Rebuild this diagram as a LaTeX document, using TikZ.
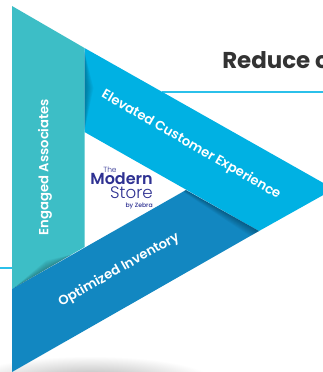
\documentclass[tikz,border=0pt]{standalone}
\usepackage{fontspec}
\setmainfont{Poppins}
\newfontfamily\medfont{Poppins Medium}
\newfontfamily\semifont{Poppins SemiBold}
\newfontfamily\lightfont{Poppins Light}
\usetikzlibrary{calc}
\definecolor{tealband}{HTML}{3DBEC6}
\definecolor{skyband}{HTML}{00B1E3}
\definecolor{deepband}{HTML}{1287C1}
\definecolor{rulecol}{HTML}{2BC0EA}
\definecolor{logoblue}{HTML}{2E3192}
\definecolor{titlecol}{HTML}{333333}
\tikzset{
  x=0.75pt,y=-0.75pt,
  bandtext/.style={text=white,font=\fontsize{9.9pt}{11pt}\semifont,inner sep=0pt},
  logotext/.style={text=logoblue,inner sep=0pt,anchor=base east},
  rulepath/.style={draw=rulecol,line width=1pt},
}
\begin{document}
\begin{tikzpicture}
\useasboundingbox (0,0) rectangle (323,372);
\fill[white] (0,0) rectangle (323,372);
% shadow below the picture
\begin{scope}
\clip (0,340) rectangle (323,372);
\shade[shading=radial,inner color=gray!65,outer color=white] (90,382) ellipse [x radius=125,y radius=26];
\end{scope}
% rules
\coordinate (ruleA) at (162,92);
\coordinate (ruleB) at (323,92);
\coordinate (ruleC) at (0,268);
\coordinate (ruleD) at (12,268);
\draw[rulepath] (ruleA) -- (ruleB);
\draw[rulepath] (ruleC) -- (ruleD);
% bands
\fill[tealband] (12,6) -- (84.5,48) -- (84.5,247) -- (12,289) -- cycle;
\fill[skyband] (84.5,48) -- (334,189) -- (259,231) -- (84.5,132) -- cycle;
\fill[deepband] (12,289) -- (186,190) -- (259,231) -- (12,372) -- cycle;
% fold shadows
\begin{scope}
\clip (84.5,48) -- (334,189) -- (259,231) -- (84.5,132) -- cycle;
\foreach \d in {1,2,...,9}
  \fill[black,opacity=0.035] (84.5,52) -- (84.5+\d,88) -- (84.5,130) -- cycle;
\end{scope}
\begin{scope}
\clip (12,6) -- (84.5,48) -- (84.5,247) -- (12,289) -- cycle;
\foreach \d in {1,2,...,8}
  \fill[black,opacity=0.035] (14,288) -- (72,254.5) -- (46,269.5-\d*1.1) -- cycle;
\end{scope}
\begin{scope}
\clip (12,289) -- (186,190) -- (259,231) -- (12,372) -- cycle;
\foreach \d in {1,2,...,10}
  \fill[black,opacity=0.03] (180,187) -- (259,231) -- (259-\d*0.9,231+\d*0.5) -- (186-\d*0.3,190+\d*0.17) -- cycle;
\end{scope}
% texts
\node[bandtext,rotate=90] (engaged) at (45,167) {Engaged Associates};
\node[bandtext,rotate=-30] (elevated) at (191,145) {Elevated Customer Experience};
\node[bandtext,rotate=29.5] (optimized) at (119,270) {Optimized Inventory};
\node[logotext,font=\fontsize{5.6pt}{6pt}\lightfont,anchor=base] (lthe) at (110,172) {The};
\node[logotext,font=\fontsize{12pt}{13pt}\semifont] (lmodern) at (153,184) {Modern};
\node[logotext,font=\fontsize{12.5pt}{13pt}\lightfont] (lstore) at (153,198) {Store};
\node[logotext,font=\fontsize{4.6pt}{5pt}\medfont] (lby) at (153,207) {by Zebra};
\node[text=titlecol,font=\fontsize{17.2pt}{20pt}\bfseries,anchor=base west,inner sep=0pt] (title) at (222,68) {Reduce c};
\end{tikzpicture}
\end{document}
